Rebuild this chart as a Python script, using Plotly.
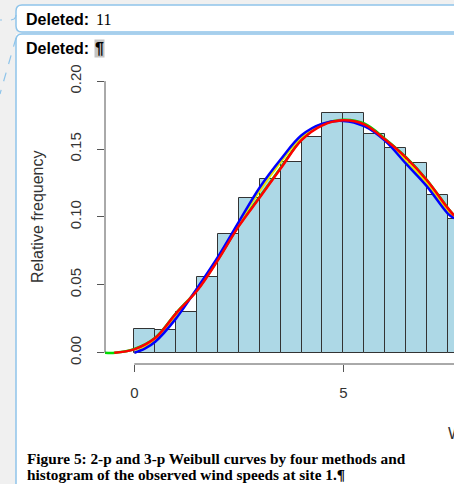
import plotly.graph_objects as go

# ---------------- data ----------------
bin_centers = [0.25, 0.75, 1.25, 1.75, 2.25, 2.75, 3.25, 3.75,
               4.25, 4.75, 5.25, 5.75, 6.25, 6.75, 7.25, 7.75]
rel_freq = [0.0174, 0.0167, 0.0297, 0.0555, 0.0871, 0.1136, 0.1280, 0.1408,
            0.1589, 0.1765, 0.1765, 0.1614, 0.1506, 0.1395, 0.1160, 0.0988]

# 2-p Weibull (blue) and a near-identical 2-p curve (yellow, mostly hidden)
blue_x = [0.0, 0.25, 0.5, 1.0, 1.5, 2.0, 2.5, 3.0, 3.5, 4.0, 4.5, 5.0, 5.5, 6.0, 6.5, 7.0, 7.5, 7.65]
blue_y = [0.0, 0.003, 0.0081, 0.0253, 0.0474, 0.0706, 0.0964, 0.1217, 0.1423, 0.1601,
          0.1687, 0.1707, 0.1668, 0.1560, 0.1392, 0.1225, 0.1025, 0.0990]
yellow_y = [0.0, 0.004, 0.0095, 0.0270, 0.0470, 0.0695, 0.0955, 0.1195, 0.1405, 0.1590,
            0.1685, 0.1710, 0.1675, 0.1565, 0.1410, 0.1245, 0.1045, 0.1005]

# 3-p Weibull (red) and a near-identical 3-p curve (green, visible at the start)
red_x = [-0.48, 0.0, 0.5, 1.0, 1.5, 2.0, 2.5, 3.0, 3.5, 4.0, 4.5, 5.0, 5.5, 6.0, 6.5, 7.0, 7.5, 7.65]
red_y = [0.0, 0.0025, 0.0108, 0.0290, 0.0456, 0.0682, 0.0932, 0.1143, 0.1356, 0.1565,
         0.1675, 0.1712, 0.1682, 0.1570, 0.1437, 0.1270, 0.1065, 0.1010]
green_x = [-0.70, -0.46, 0.0, 0.5, 1.0, 1.5, 2.0, 2.5, 3.0, 3.5, 4.0, 4.5, 5.0, 5.5, 6.0, 6.5, 7.0, 7.5, 7.65]
green_y = [0.0, 0.0, 0.0027, 0.0110, 0.0292, 0.0460, 0.0686, 0.0936, 0.1148, 0.1362, 0.1570,
           0.1680, 0.1716, 0.1688, 0.1575, 0.1440, 0.1272, 0.1066, 0.1011]

y_ticks = [0.0, 0.05, 0.10, 0.15, 0.20]
y_ticktext = ["0.00", "0.05", "0.10", "0.15", "0.20"]
x_ticks = [0, 5]
x_ticktext = ["0", "5"]

caption1 = "Figure 5: 2-p and 3-p Weibull curves by four methods and"
caption2 = "histogram of the observed wind speeds at site 1.¶"

# ---------------- geometry ----------------
W, H = 454, 484
L, R, T, B = 105, 0, 81, 120
PW, PH = W - L - R, H - T - B
X_RANGE = [-0.701, 7.648]
Y_RANGE = [-0.00831, 0.2001]


def px(x):
    return (x - L) / PW


def py(y):
    return (H - B - y) / PH


AXC = "#555555"
BLUEB = "#8ec4ea"
GRAYBG = "#f0f0f0"

fig = go.Figure()

fig.add_trace(go.Bar(x=bin_centers, y=rel_freq, width=0.5,
                     marker=dict(color="#add8e6", line=dict(color="#333333", width=1)),
                     showlegend=False, hoverinfo="skip"))

fig.add_trace(go.Scatter(x=green_x, y=green_y, mode="lines", line=dict(color="#00dd00", width=2.5, shape="spline"),
                         showlegend=False))
fig.add_trace(go.Scatter(x=blue_x, y=yellow_y, mode="lines", line=dict(color="#e8e800", width=2.5, shape="spline"),
                         showlegend=False))
fig.add_trace(go.Scatter(x=blue_x, y=blue_y, mode="lines", line=dict(color="#0000ff", width=2.5, shape="spline"),
                         showlegend=False))
fig.add_trace(go.Scatter(x=red_x, y=red_y, mode="lines", line=dict(color="#ff0000", width=2.5, shape="spline"),
                         showlegend=False))

shapes = []
# page chrome: gray margins
shapes.append(dict(type="rect", xref="paper", yref="paper", x0=px(0), x1=px(16), y0=py(0), y1=py(H),
                   fillcolor=GRAYBG, line=dict(width=0), layer="below"))
shapes.append(dict(type="rect", xref="paper", yref="paper", x0=px(0), x1=px(W), y0=py(0), y1=py(34),
                   fillcolor=GRAYBG, line=dict(width=0), layer="below"))


def rrect(x0, y0, x1, y1, r):
    pts = [
        f"M {px(x0 + r)} {py(y0)}",
        f"L {px(x1 - r)} {py(y0)}",
        f"Q {px(x1)} {py(y0)} {px(x1)} {py(y0 + r)}",
        f"L {px(x1)} {py(y1 - r)}",
        f"Q {px(x1)} {py(y1)} {px(x1 - r)} {py(y1)}",
        f"L {px(x0 + r)} {py(y1)}",
        f"Q {px(x0)} {py(y1)} {px(x0)} {py(y1 - r)}",
        f"L {px(x0)} {py(y0 + r)}",
        f"Q {px(x0)} {py(y0)} {px(x0 + r)} {py(y0)}",
        "Z",
    ]
    return " ".join(pts)


shapes.append(dict(type="path", xref="paper", yref="paper", path=rrect(16, 5, 472, 32, 6),
                   fillcolor="white", line=dict(color=BLUEB, width=1.5), layer="below"))
shapes.append(dict(type="path", xref="paper", yref="paper", path=rrect(16, 34, 472, 520, 6),
                   fillcolor="white", line=dict(color=BLUEB, width=1.5), layer="below"))
# balloon connectors
shapes.append(dict(type="line", xref="paper", yref="paper", x0=px(0), x1=px(2), y0=py(20), y1=py(20),
                   line=dict(color=BLUEB, width=1.2)))
shapes.append(dict(type="path", xref="paper", yref="paper",
                   path=f"M {px(11)} {py(20)} L {px(14)} {py(19)} Q {px(16)} {py(18)} {px(16)} {py(15)}",
                   line=dict(color=BLUEB, width=1.2)))
shapes.append(dict(type="line", xref="paper", yref="paper", x0=px(16), x1=px(0), y0=py(38), y1=py(94),
                   line=dict(color=BLUEB, width=1.2, dash="dash")))

# R-style axis lines (only spanning the tick range)
shapes.append(dict(type="line", xref="paper", yref="y", x0=0, x1=0, y0=0, y1=0.2,
                   line=dict(color=AXC, width=1)))
shapes.append(dict(type="line", xref="x", yref="paper", x0=0, x1=X_RANGE[1] + 1, y0=0, y1=0,
                   line=dict(color=AXC, width=1)))

annotations = [
    dict(text="Relative frequency", xref="paper", yref="paper", x=px(37), y=py(217),
         textangle=-90, showarrow=False, xanchor="center", yanchor="middle",
         font=dict(family="Liberation Sans, Arial", size=16, color="#333333")),
    dict(text="Wind speed (m/s)", xref="paper", yref="paper", x=px(446), y=py(433),
         showarrow=False, xanchor="left", yanchor="middle",
         font=dict(family="Liberation Sans, Arial", size=16, color="#333333")),
    dict(text=caption1, xref="paper", yref="paper", x=px(25), y=py(458), showarrow=False,
         xanchor="left", yanchor="middle",
         font=dict(family="Liberation Serif, Times New Roman", size=15.3, color="black", weight="bold")),
    dict(text=caption2, xref="paper", yref="paper", x=px(25), y=py(474), showarrow=False,
         xanchor="left", yanchor="middle",
         font=dict(family="Liberation Serif, Times New Roman", size=15.3, color="black", weight="bold")),
    dict(text="<b>Deleted:</b>", xref="paper", yref="paper", x=px(24), y=py(19), showarrow=False,
         xanchor="left", yanchor="middle",
         font=dict(family="Liberation Sans, Arial", size=16, color="black")),
    dict(text="11", xref="paper", yref="paper", x=px(94), y=py(19), showarrow=False,
         xanchor="left", yanchor="middle",
         font=dict(family="Liberation Serif, Times New Roman", size=16, color="black")),
    dict(text="<b>Deleted:</b>", xref="paper", yref="paper", x=px(24), y=py(48), showarrow=False,
         xanchor="left", yanchor="middle",
         font=dict(family="Liberation Sans, Arial", size=16, color="black")),
    dict(text="<b>¶</b>", xref="paper", yref="paper", x=px(94), y=py(48), showarrow=False,
         xanchor="left", yanchor="middle", bgcolor="#c4c4c4", borderpad=0,
         font=dict(family="Liberation Sans, Arial", size=16, color="black")),
]

fig.update_layout(
    width=W, height=H,
    margin=dict(l=L, r=R, t=T, b=B, pad=0),
    paper_bgcolor="white", plot_bgcolor="rgba(0,0,0,0)",
    bargap=0,
    shapes=shapes,
    annotations=annotations,
    showlegend=False,
    xaxis=dict(range=X_RANGE, tickvals=x_ticks, ticktext=x_ticktext, ticks="outside", ticklen=7,
               tickcolor=AXC, tickwidth=1, showline=False, showgrid=False, zeroline=False,
               ticklabelstandoff=8,
               tickfont=dict(family="Liberation Sans, Arial", size=15, color="#333333")),
    yaxis=dict(range=Y_RANGE, tickvals=y_ticks, ticktext=y_ticktext, ticks="outside", ticklen=7,
               tickcolor=AXC, tickwidth=1, showline=False, showgrid=False, zeroline=False,
               tickangle=-90, ticklabelstandoff=10,
               tickfont=dict(family="Liberation Sans, Arial", size=15, color="#333333")),
)

fig.write_html("out.html", config={"displayModeBar": False},
               post_script="document.body.style.margin='0';document.body.style.overflow='hidden';")
